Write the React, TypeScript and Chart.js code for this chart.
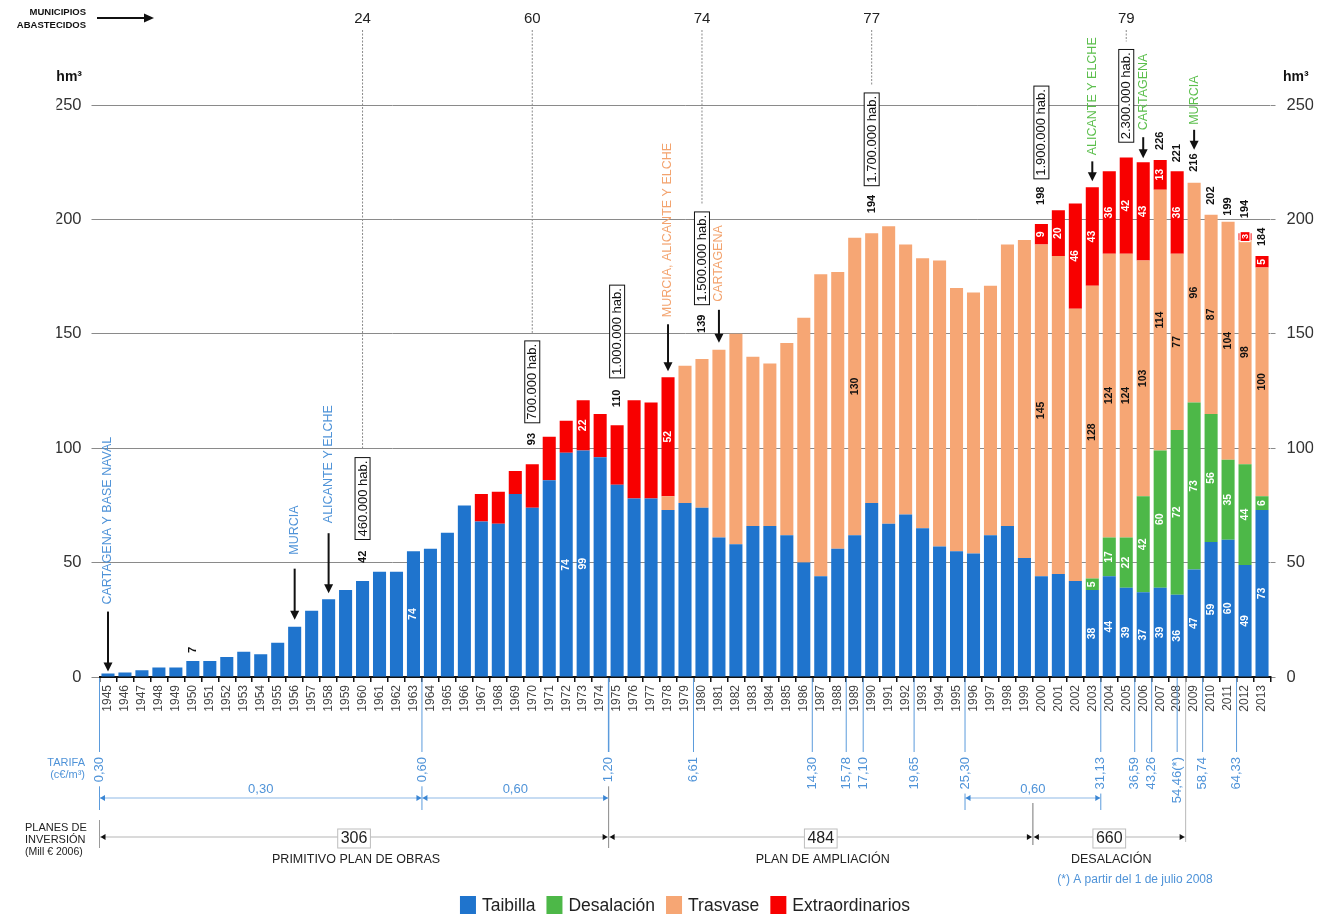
import React, { useEffect, useRef } from 'react';
import { Chart, registerables } from 'chart.js';

Chart.register(...registerables);

const FAM = '"Liberation Sans", Arial, Helvetica, sans-serif';
const BLUE = '#1f74cd';
const GREEN = '#4db848';
const ORANGE = '#f6a674';
const RED = '#f80000';
const LBLUE = '#4f93d8';
const LORANGE = '#f3a36e';
const LGREEN = '#5cbf4d';

const years = [
  '1945', '1946', '1947', '1948', '1949', '1950', '1951', '1952', '1953', '1954',
  '1955', '1956', '1957', '1958', '1959', '1960', '1961', '1962', '1963', '1964',
  '1965', '1966', '1967', '1968', '1969', '1970', '1971', '1972', '1973', '1974',
  '1975', '1976', '1977', '1978', '1979', '1980', '1981', '1982', '1983', '1984',
  '1985', '1986', '1987', '1988', '1989', '1990', '1991', '1992', '1993', '1994',
  '1995', '1996', '1997', '1998', '1999', '2000', '2001', '2002', '2003', '2004',
  '2005', '2006', '2007', '2008', '2009', '2010', '2011', '2012', '2013',
];

const taibilla = [
  1.5, 2, 3, 4.2, 4.2, 7, 7, 8.7, 11, 9.9,
  15, 22, 29, 34, 38, 42, 46, 46, 55, 56,
  63, 75, 68, 67, 80, 74, 86, 98, 99, 96,
  84, 78, 78, 73, 76, 74, 61, 58, 66, 66,
  62, 50, 44, 56, 62, 76, 67, 71, 65, 57,
  55, 54, 62, 66, 52, 44, 45, 42, 38, 44,
  39, 37, 39, 36, 47, 59, 60, 49, 73,
];

const desalacion = [
  null, null, null, null, null, null, null, null, null, null,
  null, null, null, null, null, null, null, null, null, null,
  null, null, null, null, null, null, null, null, null, null,
  null, null, null, null, null, null, null, null, null, null,
  null, null, null, null, null, null, null, null, null, null,
  null, null, null, null, null, null, null, null, 5, 17,
  22, 42, 60, 72, 73, 56, 35, 44, 6,
];

const trasvase = [
  null, null, null, null, null, null, null, null, null, null,
  null, null, null, null, null, null, null, null, null, null,
  null, null, null, null, null, null, null, null, null, null,
  null, null, null, 6, 60, 65, 82, 92, 74, 71,
  84, 107, 132, 121, 130, 118, 130, 118, 118, 125,
  115, 114, 109, 123, 139, 145, 139, 119, 128, 124,
  124, 103, 114, 77, 96, 87, 104, 98, 100,
];

const extraordinarios = [
  null, null, null, null, null, null, null, null, null, null,
  null, null, null, null, null, null, null, null, null, null,
  null, null, 12, 14, 10, 19, 19, 14, 22, 19,
  26, 43, 42, 52, null, null, null, null, null, null,
  null, null, null, null, null, null, null, null, null, null,
  null, null, null, null, null, 9, 20, 46, 43, 36,
  42, 43, 13, 36, null, null, null, 3, 5,
];

// Text printed inside the bar segments (as in the original figure)
const taibillaText: Record<string, string> = {
  '1963': '74', '1972': '74', '1973': '99', '2003': '38', '2004': '44', '2005': '39', '2006': '37',
  '2007': '39', '2008': '36', '2009': '47', '2010': '59', '2011': '60', '2012': '49', '2013': '73',
};
const desalacionText: Record<string, string> = {
  '2003': '5', '2004': '17', '2005': '22', '2006': '42', '2007': '60', '2008': '72', '2009': '73',
  '2010': '56', '2011': '35', '2012': '44', '2013': '6',
};
const trasvaseText: Record<string, string> = {
  '1989': '130', '2000': '145', '2003': '128', '2004': '124', '2005': '124', '2006': '103', '2007': '114',
  '2008': '77', '2009': '96', '2010': '87', '2011': '104', '2012': '98', '2013': '100',
};
const extraText: Record<string, string> = {
  '1973': '22', '1978': '52', '2000': '9', '2001': '20', '2002': '46', '2003': '43', '2004': '36',
  '2005': '42', '2006': '43', '2007': '13', '2008': '36', '2012': '3', '2013': '5',
};

// Totals written above the bars
const totalYears = ['1950', '1960', '1970', '1975', '1980', '1990', '2000', '2007', '2008', '2009', '2010', '2011', '2012', '2013'];
const totalText = ['7', '42', '93', '110', '139', '194', '198', '226', '221', '216', '202', '199', '194', '184'];
const totalGap = [8, 18, 19, 18, 26, 20, 19, 10, 9, 11, 10, 6, 15, 10];

// Municipios abastecidos
const municipiosYears = ['1960', '1970', '1980', '1990', '2005'];
const municipios = ['24', '60', '74', '77', '79'];

// Población (boxes)
const popYears = ['1960', '1970', '1975', '1980', '1990', '2000', '2005'];
const popText = ['460.000 hab.', '700.000 hab.', '1.000.000 hab.', '1.500.000 hab.', '1.700.000 hab.', '1.900.000 hab.', '2.300.000 hab.'];
const popLevel = [78, 129, 151, 183, 235, 238, 254];

// City incorporations
const cities = [
  { yr: '1945', t: 'CARTAGENA Y BASE NAVAL', c: LBLUE, gap: 2, len: 60, tg: 7 },
  { yr: '1956', t: 'MURCIA', c: LBLUE, gap: 7, len: 51, tg: 14 },
  { yr: '1958', t: 'ALICANTE Y ELCHE', c: LBLUE, gap: 6, len: 60, tg: 10 },
  { yr: '1978', t: 'MURCIA, ALICANTE Y ELCHE', c: LORANGE, gap: 6, len: 47, tg: 7 },
  { yr: '1981', t: 'CARTAGENA', c: LORANGE, gap: 7, len: 33, tg: 8 },
  { yr: '2003', t: 'ALICANTE Y ELCHE', c: LGREEN, gap: 6, len: 20, tg: 6 },
  { yr: '2006', t: 'CARTAGENA', c: LGREEN, gap: 4, len: 21, tg: 7 },
  { yr: '2009', t: 'MURCIA', c: LGREEN, gap: 33, len: 20, tg: 5 },
];

// Tarifa
const tarifaYears = ['1945', '1964', '1975', '1980', '1987', '1989', '1990', '1993', '1996', '2004', '2006', '2007', '2008', '2010', '2012'];
const tarifaValues = ['0,30', '0,60', '1,20', '6,61', '14,30', '15,78', '17,10', '19,65', '25,30', '31,13', '36,59', '43,26', '54,46(*)', '58,74', '64,33'];
const tarifaMidYear = '2008';
const tarifaPeriods = [
  { from: '1945', to: '1964', t: '0,30' },
  { from: '1964', to: '1975', t: '0,60' },
  { from: '1996', to: '2004', t: '0,60' },
];

// Planes de inversión
const planes = [
  { from: '1945', to: '1975', v: '306', t: 'PRIMITIVO PLAN DE OBRAS' },
  { from: '1975', to: '2000', v: '484', t: 'PLAN DE AMPLIACIÓN' },
  { from: '2000', to: '2009', v: '660', t: 'DESALACIÓN' },
];

const seriesText = [taibillaText, desalacionText, trasvaseText, extraText];
const seriesTextColor = ['#fff', '#fff', '#111', '#fff'];

const annotPlugin = {
  id: 'annot',
  afterDraw(chart: any) {
    const ctx = chart.ctx as CanvasRenderingContext2D;
    const xs = chart.scales.x;
    const ys = chart.scales.y;
    const ix = (yr: string) => years.indexOf(yr);
    const X = (yr: string) => xs.getPixelForValue(ix(yr));
    const step = xs.getPixelForValue(1) - xs.getPixelForValue(0);
    const XB = (yr: string) => X(yr) - step / 2;
    const Y = (v: number) => ys.getPixelForValue(v);
    const series = [taibilla, desalacion, trasvase, extraordinarios];
    const total = (yr: string) => {
      const i = ix(yr);
      return series.reduce((s, a) => s + ((a[i] as number) ?? 0), 0);
    };
    const F = (px: number, bold = false) => `${bold ? 'bold ' : ''}${px}px ${FAM}`;
    const vtext = (t: string, x: number, y: number, align: CanvasTextAlign, f: string, c: string) => {
      ctx.save();
      ctx.translate(x, y);
      ctx.rotate(-Math.PI / 2);
      ctx.font = f;
      ctx.fillStyle = c;
      ctx.textAlign = align;
      ctx.textBaseline = 'middle';
      ctx.fillText(t, 0, 0);
      ctx.restore();
    };
    const htext = (t: string, x: number, y: number, align: CanvasTextAlign, f: string, c: string) => {
      ctx.save();
      ctx.font = f;
      ctx.fillStyle = c;
      ctx.textAlign = align;
      ctx.textBaseline = 'middle';
      ctx.fillText(t, x, y);
      ctx.restore();
    };
    const line = (x1: number, y1: number, x2: number, y2: number, c: string, w = 1, dash: number[] = []) => {
      ctx.save();
      ctx.strokeStyle = c;
      ctx.lineWidth = w;
      ctx.setLineDash(dash);
      ctx.beginPath();
      ctx.moveTo(x1, y1);
      ctx.lineTo(x2, y2);
      ctx.stroke();
      ctx.restore();
    };
    const tri = (pts: number[][], c: string) => {
      ctx.save();
      ctx.fillStyle = c;
      ctx.beginPath();
      ctx.moveTo(pts[0][0], pts[0][1]);
      ctx.lineTo(pts[1][0], pts[1][1]);
      ctx.lineTo(pts[2][0], pts[2][1]);
      ctx.closePath();
      ctx.fill();
      ctx.restore();
    };
    const arrowDown = (x: number, y1: number, y2: number) => {
      const h = Math.min(9, (y2 - y1) * 0.45);
      line(x, y1, x, y2 - h + 1, '#111', 2);
      tri([[x, y2], [x - 4.5, y2 - h], [x + 4.5, y2 - h]], '#111');
    };
    const hArrowHeads = (x1: number, x2: number, y: number, c: string, s = 5) => {
      tri([[x1, y], [x1 + s, y - s * 0.6], [x1 + s, y + s * 0.6]], c);
      tri([[x2, y], [x2 - s, y - s * 0.6], [x2 - s, y + s * 0.6]], c);
    };

    const base = Y(0);

    // ---- Header: municipios abastecidos
    htext('MUNICIPIOS', 86, 12, 'right', F(9.5, true), '#111');
    htext('ABASTECIDOS', 86, 25, 'right', F(9.5, true), '#111');
    line(97, 18, 145, 18, '#111', 2);
    tri([[154, 18], [144, 13.5], [144, 22.5]], '#111');

    // hm3 labels
    htext('hm³', 82, 77, 'right', F(14, true), '#111');
    htext('hm³', 1283, 77, 'left', F(14, true), '#111');

    // ---- Population boxes + municipios numbers & dashed lines
    const boxTop: Record<string, number> = {};
    popYears.forEach((yr, k) => {
      const x = X(yr);
      const yc = Y(popLevel[k]);
      ctx.font = F(13);
      const w = ctx.measureText(popText[k]).width;
      ctx.save();
      ctx.translate(x, yc);
      ctx.rotate(-Math.PI / 2);
      ctx.fillStyle = '#fff';
      ctx.fillRect(-w / 2 - 3, -7.5, w + 6, 15);
      ctx.strokeStyle = '#111';
      ctx.lineWidth = 1;
      ctx.strokeRect(-w / 2 - 3, -7.5, w + 6, 15);
      ctx.fillStyle = '#111';
      ctx.textAlign = 'center';
      ctx.textBaseline = 'middle';
      ctx.fillText(popText[k], 0, 0.5);
      ctx.restore();
      boxTop[yr] = yc - w / 2 - 3;
    });
    municipiosYears.forEach((yr, k) => {
      const x = X(yr);
      htext(municipios[k], x, 19, 'center', F(15), '#222');
      const end = boxTop[yr] !== undefined ? boxTop[yr] - 8 : Y(150);
      line(x, 30, x, end, '#8a8a8a', 1, [2, 1.5]);
    });

    // ---- Texts inside bar segments
    years.forEach((yr, i) => {
      let acc = 0;
      series.forEach((arr, d) => {
        const v = (arr[i] as number) ?? 0;
        const t = seriesText[d][yr];
        if (t && v > 0) {
          const mid = Y(acc + v / 2);
          const x = X(yr);
          const hpx = Y(acc) - Y(acc + v);
          if (hpx < 9) {
            ctx.save();
            ctx.fillStyle = RED;
            ctx.strokeStyle = '#fff';
            ctx.lineWidth = 1.2;
            ctx.fillRect(x - 5, mid - 5, 10, 10);
            ctx.strokeRect(x - 5, mid - 5, 10, 10);
            ctx.restore();
            vtext(t, x, mid, 'center', F(9, true), seriesTextColor[d]);
          } else {
            vtext(t, x, mid, 'center', F(10.5, true), seriesTextColor[d]);
          }
        }
        acc += v;
      });
    });

    // ---- Totals above bars
    totalYears.forEach((yr, k) => {
      vtext(totalText[k], X(yr), Y(total(yr)) - totalGap[k], 'left', F(11, true), '#111');
    });

    // ---- City labels with arrows
    cities.forEach((c) => {
      const x = X(c.yr);
      const top = Y(total(c.yr));
      const aEnd = top - c.gap;
      const aStart = aEnd - c.len;
      arrowDown(x, aStart, aEnd);
      vtext(c.t, x, aStart - c.tg, 'left', F(12.5), c.c);
    });

    // ---- Tarifa section
    htext('TARIFA', 85, 763, 'right', F(11), LBLUE);
    htext('(c€/m³)', 85, 775, 'right', F(11), LBLUE);
    const ext: Record<string, number> = { '1945': 810, '1964': 810, '1975': 848, '1996': 810, '2004': 810 };
    const tx: Record<string, number> = {};
    tarifaYears.forEach((yr, k) => {
      const x = yr === tarifaMidYear ? X(yr) : XB(yr);
      tx[yr] = x;
      line(x, base + 1, x, 752, '#5b9bdc', yr === '1975' ? 1.5 : 1);
      ctx.font = F(13);
      const w = ctx.measureText(tarifaValues[k]).width;
      vtext(tarifaValues[k], x, 757, 'right', F(13), LBLUE);
      if (ext[yr]) line(x, 757 + w + 4, x, ext[yr], yr === '1975' ? '#8a8a8a' : '#5b9bdc', 1);
    });
    tarifaPeriods.forEach((p) => {
      const x1 = tx[p.from];
      const x2 = tx[p.to];
      line(x1, 798, x2, 798, '#8fb9e6', 1);
      hArrowHeads(x1 + 0.5, x2 - 0.5, 798, '#3a86d4', 5);
      htext(p.t, (x1 + x2) / 2, 789, 'center', F(13), LBLUE);
    });

    // ---- Planes de inversión
    htext('PLANES DE', 25, 828, 'left', F(11), '#222');
    htext('INVERSIÓN', 25, 840, 'left', F(11), '#222');
    htext('(Mill € 2006)', 25, 852, 'left', F(10.5), '#222');
    const px = planes.map((p) => [XB(p.from), XB(p.to)]);
    line(px[0][0], 820, px[0][0], 848, '#9a9a9a', 1);
    line(px[1][1], 803, px[1][1], 845, '#777', 1);
    line(px[2][1], base + 1, px[2][1], 842, '#b8b8b8', 1);
    planes.forEach((p, k) => {
      const [x1, x2] = px[k];
      line(x1, 837, x2, 837, '#b5b5b5', 1.2);
      hArrowHeads(x1 + 1, x2 - 1, 837, '#111', 5);
      const cx = (x1 + x2) / 2;
      ctx.font = F(16);
      const w = ctx.measureText(p.v).width;
      ctx.save();
      ctx.fillStyle = '#fff';
      ctx.strokeStyle = '#bdbdbd';
      ctx.lineWidth = 1;
      ctx.fillRect(cx - w / 2 - 3, 829, w + 6, 19);
      ctx.strokeRect(cx - w / 2 - 3, 829, w + 6, 19);
      ctx.restore();
      htext(p.v, cx, 839, 'center', F(16), '#222');
      htext(p.t, cx + 2, 860, 'center', F(12.5), '#222');
    });
    htext('(*) A partir del 1 de julio 2008', 1135, 880, 'center', F(12), LBLUE);

    // ---- Legend
    const items = chart.data.datasets.map((d: any) => ({ label: d.label, color: d.backgroundColor }));
    ctx.font = F(17.5);
    const box = 16;
    const widths = items.map((it: any) => box + 6 + ctx.measureText(it.label).width);
    const gapL = 11;
    const totalW = widths.reduce((a: number, b: number) => a + b, 0) + gapL * (items.length - 1);
    let lx = (chart.chartArea.left + chart.chartArea.right) / 2 - totalW / 2;
    const ly = 905;
    items.forEach((it: any, k: number) => {
      ctx.save();
      ctx.fillStyle = it.color;
      ctx.fillRect(lx, ly - 9, box, 18);
      ctx.restore();
      htext(it.label, lx + box + 6, ly + 1, 'left', F(17.5), '#222');
      lx += widths[k] + gapL;
    });
  },
};

export default function App() {
  const ref = useRef<HTMLCanvasElement>(null);

  useEffect(() => {
    if (!ref.current) return;
    const tickFont = { size: 16.5, family: FAM };
    const chart = new Chart(ref.current, {
      type: 'bar',
      data: {
        labels: years,
        datasets: [
          { label: 'Taibilla', data: taibilla, backgroundColor: BLUE },
          { label: 'Desalación', data: desalacion, backgroundColor: GREEN },
          { label: 'Trasvase', data: trasvase, backgroundColor: ORANGE },
          { label: 'Extraordinarios', data: extraordinarios, backgroundColor: RED },
        ] as any,
      },
      options: {
        responsive: false,
        animation: false,
        devicePixelRatio: 1,
        barPercentage: 0.77,
        categoryPercentage: 1,
        layout: { padding: { left: 56.5, right: 11.5, top: 105, bottom: 0 } },
        plugins: { legend: { display: false }, tooltip: { enabled: false } },
        scales: {
          x: {
            stacked: true,
            offset: true,
            grid: { offset: true, drawOnChartArea: false, drawTicks: true, tickLength: 5, color: '#111', lineWidth: 1.5 },
            border: { display: true, color: '#111', width: 2 },
            ticks: {
              autoSkip: false,
              minRotation: 90,
              maxRotation: 90,
              padding: 3,
              color: '#444',
              font: { size: 12, family: FAM },
            },
            afterFit: (s: any) => {
              s.height = 240;
            },
          },
          y: {
            stacked: true,
            min: 0,
            max: 250,
            position: 'left',
            ticks: { stepSize: 50, padding: 10, color: '#333', font: tickFont },
            grid: { color: '#8a8a8a', lineWidth: 1, tickLength: 8 },
            border: { display: false },
            afterFit: (s: any) => {
              s.width = 43;
            },
          },
          y2: {
            min: 0,
            max: 250,
            position: 'right',
            ticks: { stepSize: 50, padding: 11, color: '#333', font: tickFont },
            grid: { drawOnChartArea: false, color: '#8a8a8a', lineWidth: 1, tickLength: 5 },
            border: { display: false },
            afterFit: (s: any) => {
              s.width = 43;
            },
          },
        },
      } as any,
      plugins: [annotPlugin],
    });
    return () => chart.destroy();
  }, []);

  return (
    <div style={{ position: 'fixed', left: 0, top: 0, width: 1325, height: 917, background: '#fff' }}>
      <canvas ref={ref} width={1325} height={917} style={{ display: 'block' }} />
    </div>
  );
}
